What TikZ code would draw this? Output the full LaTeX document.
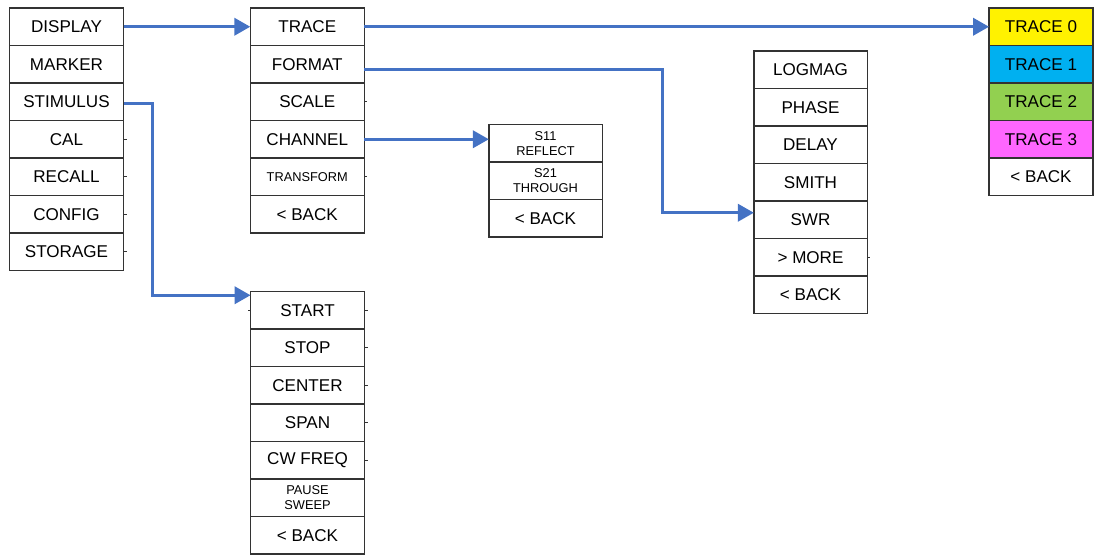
\documentclass[tikz,border=0pt]{standalone}
\usepackage{fontspec}
\setmainfont{Liberation Sans}
\usepackage{xcolor}
\usetikzlibrary{arrows.meta,positioning}
\definecolor{linkblue}{RGB}{68,114,196}
\definecolor{tracecyan}{RGB}{0,176,240}
\definecolor{tracegreen}{RGB}{146,208,80}
\definecolor{tracepink}{RGB}{255,102,255}

\begin{document}
\begin{tikzpicture}[
  x=0.75pt, y=-0.75pt,
  menu/.style={draw=black!80, line width=1pt, minimum width=85.5pt,
    minimum height=28.125pt, inner sep=0pt, outer sep=0pt, anchor=north,
    font=\fontsize{12.8}{14}\selectfont},
  small/.style={font=\fontsize{9.6}{11.2}\selectfont, align=center},
  link/.style={-{Triangle[length=12pt,width=13pt]}, draw=linkblue,
    line width=2.2pt},
  stub/.style={draw=black!80, line width=0.6pt}
]
  \useasboundingbox (0,0) rectangle (1094,555);

  % main menu
  \node[menu] (display) at (66.5,8) {DISPLAY};
  \node[menu, below=0pt of display] (marker) {MARKER};
  \node[menu, below=0pt of marker] (stimulus) {STIMULUS};
  \node[menu, below=0pt of stimulus] (cal) {CAL};
  \node[menu, below=0pt of cal] (recall) {RECALL};
  \node[menu, below=0pt of recall] (config) {CONFIG};
  \node[menu, below=0pt of config] (storage) {STORAGE};

  % display menu
  \node[menu] (trace) at (307.25,8) {TRACE};
  \node[menu, below=0pt of trace] (format) {FORMAT};
  \node[menu, below=0pt of format] (scale) {SCALE};
  \node[menu, below=0pt of scale] (channel) {CHANNEL};
  \node[menu, small, below=0pt of channel] (transform) {TRANSFORM};
  \node[menu, below=0pt of transform] (dispback) {< BACK};

  % channel menu
  \node[menu, small, minimum width=85pt] (s11) at (545.5,124.5) {S11\\REFLECT};
  \node[menu, small, minimum width=85pt, below=0pt of s11] (s21) {S21\\THROUGH};
  \node[menu, minimum width=85pt, below=0pt of s21] (chanback) {< BACK};

  % format menu
  \node[menu, minimum width=85pt] (logmag) at (810.5,51) {LOGMAG};
  \node[menu, minimum width=85pt, below=0pt of logmag] (phase) {PHASE};
  \node[menu, minimum width=85pt, below=0pt of phase] (delay) {DELAY};
  \node[menu, minimum width=85pt, below=0pt of delay] (smith) {SMITH};
  \node[menu, minimum width=85pt, below=0pt of smith] (swr) {SWR};
  \node[menu, minimum width=85pt, below=0pt of swr] (more) {> MORE};
  \node[menu, minimum width=85pt, below=0pt of more] (fmtback) {< BACK};

  % trace menu
  \node[menu, minimum width=78pt, fill=yellow] (tr0) at (1041,8) {TRACE 0};
  \node[menu, minimum width=78pt, fill=tracecyan, below=0pt of tr0] (tr1) {TRACE 1};
  \node[menu, minimum width=78pt, fill=tracegreen, below=0pt of tr1] (tr2) {TRACE 2};
  \node[menu, minimum width=78pt, fill=tracepink, below=0pt of tr2] (tr3) {TRACE 3};
  \node[menu, minimum width=78pt, below=0pt of tr3] (trback) {< BACK};

  % stimulus menu
  \node[menu] (start) at (307.5,291.5) {START};
  \node[menu, below=0pt of start] (stop) {STOP};
  \node[menu, below=0pt of stop] (center) {CENTER};
  \node[menu, below=0pt of center] (span) {SPAN};
  \node[menu, below=0pt of span] (cwfreq) {CW FREQ};
  \node[menu, small, below=0pt of cwfreq] (pause) {PAUSE\\SWEEP};
  \node[menu, below=0pt of pause] (stimback) {< BACK};

  % little stubs on the box edges
  \foreach \n in {cal,recall,config,storage,scale,transform,
                  start,stop,center,span,cwfreq,more}
    \draw[stub] (\n.east) -- ++(3,0);
  \draw[stub] (start.west) -- ++(-3,0);

  % links between menus
  \draw[link] (display.east) -- (trace.west);
  \draw[link] (trace.east) -- (tr0.west);
  \draw[link] ([yshift=-3.75pt]format.east)
    -| ([xshift=-68.25pt,yshift=5.25pt]swr.west) -- ([yshift=5.25pt]swr.west);
  \draw[link] (channel.east) -- (channel.east -| s11.west);
  \draw[link] ([yshift=-1.5pt]stimulus.east)
    -| ([xshift=-73.5pt,yshift=11.25pt]start.west) -- ([yshift=11.25pt]start.west);
\end{tikzpicture}
\end{document}
